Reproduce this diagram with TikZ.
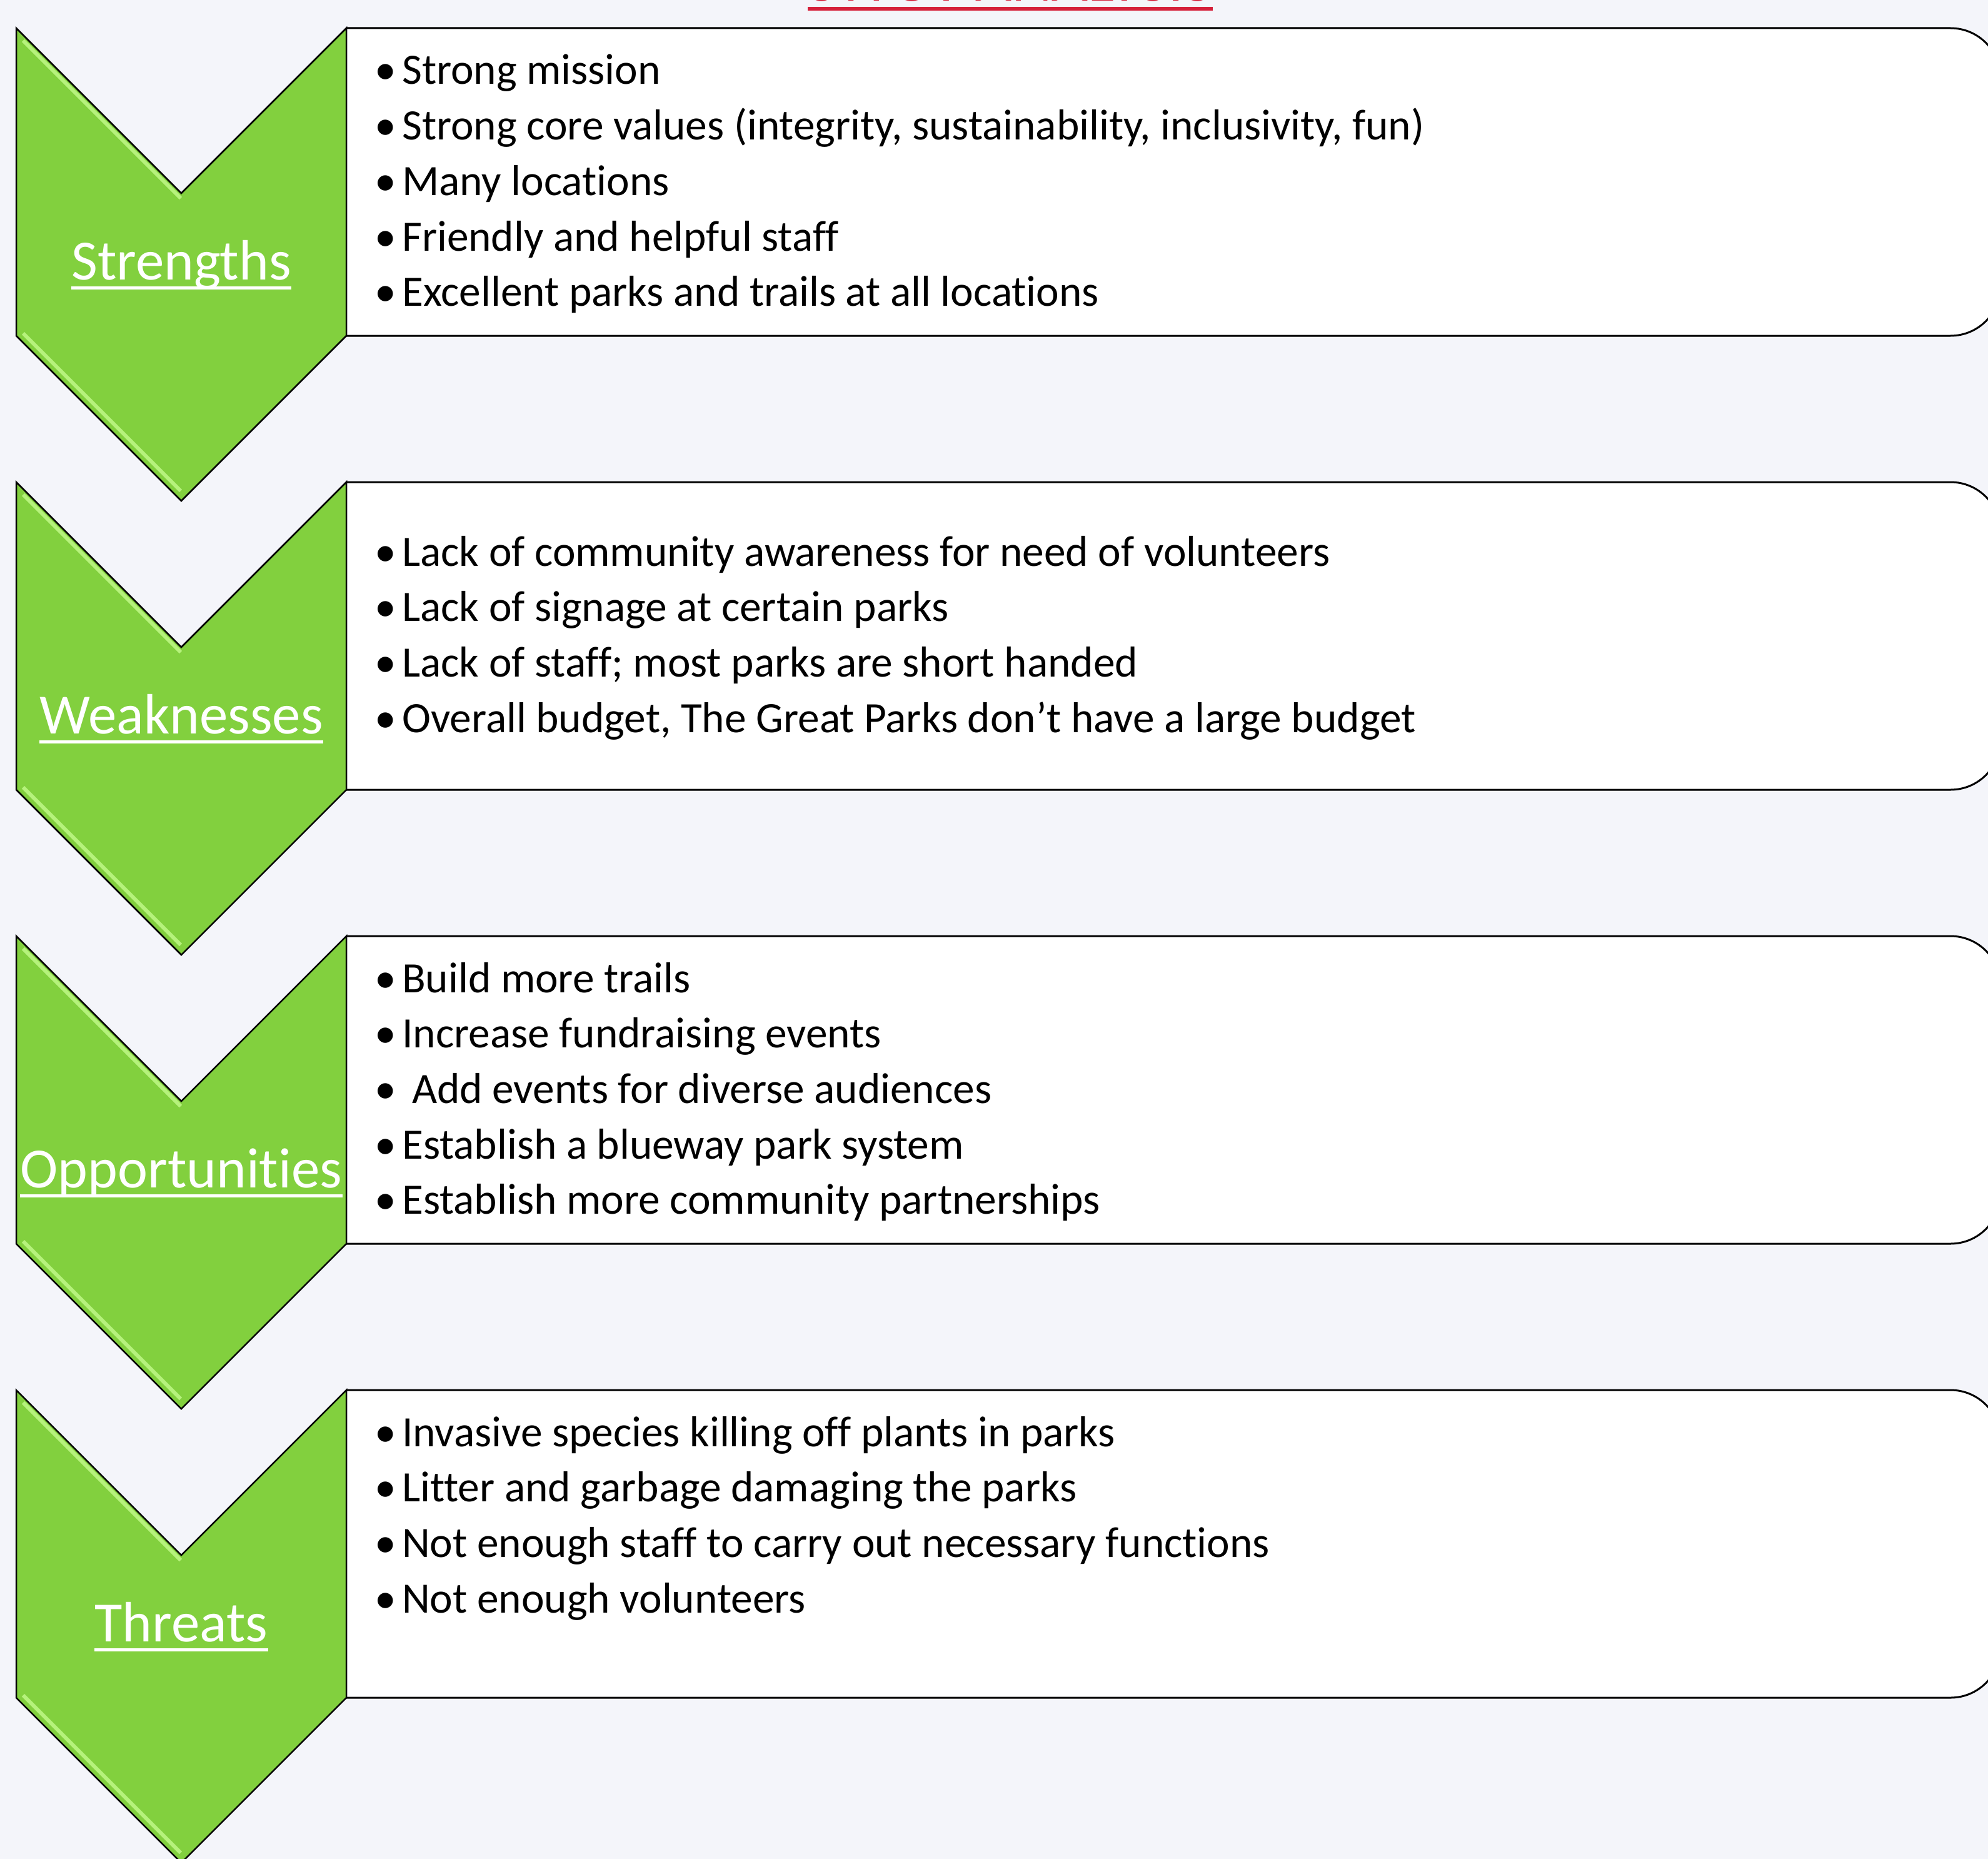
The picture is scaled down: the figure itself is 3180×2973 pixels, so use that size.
\documentclass[tikz,border=0pt]{standalone}
\usepackage{fontspec}
\setmainfont{Carlito}[Ligatures=NoCommon]
\usetikzlibrary{calc}
\definecolor{bgc}{HTML}{F4F5FA}
\definecolor{chevgreen}{HTML}{82D03E}
\definecolor{chevlight}{HTML}{B6F27C}
\definecolor{titlered}{HTML}{D5203A}
\begin{document}
\begin{tikzpicture}[x=1pt,y=-1pt,
  chev/.style={fill=chevgreen,draw=black,line width=2.5pt,line join=miter},
  hilite/.style={draw=chevlight,line width=6pt},
  boxst/.style={fill=white,draw=black,line width=3pt},
  lab/.style={anchor=base,inner sep=0pt,text=white,font=\fontsize{91}{109}\selectfont},
  ul/.style={draw=white,line width=5pt},
  bul/.style={anchor=base west,inner sep=0pt,font=\fontsize{69.3}{83}\selectfont},
  item/.style={anchor=base west,inner sep=0pt,font=\fontsize{69.3}{83}\selectfont}]
\useasboundingbox (0,0) rectangle (3180,2973);
\clip (0,0) rectangle (3180,2973);
\fill[bgc] (0,0) rectangle (3180,2973);

% title (mostly above the visible area)
\node[anchor=base,inner sep=0pt,text=titlered,font=\fontsize{100}{120}\selectfont] (title) at (1616,2) {SWOT ANALYSIS};
\draw[draw=titlered,line width=6pt] ($(title.base west)+(0,12)$) -- ($(title.base east)+(0,12)$);

% rows
\foreach \t/\lab/\nm in {45/Strengths/S,771/Weaknesses/W,1497/Opportunities/O,2223/Threats/T}{
  \filldraw[boxst,rounded corners=80pt] (554,\t) -- (3200,\t) -- (3200,{\t+492}) -- (554,{\t+492});
  \path[chev] (26,\t) -- (290,{\t+264}) -- (554,\t) -- (554,{\t+492}) -- (290,{\t+756}) -- (26,{\t+492}) -- cycle;
  \draw[hilite] (37,{\t+20}) -- (289,{\t+272});
  \draw[hilite] (37,{\t+488}) -- (289,{\t+740});
  \node[lab] (lab\nm) at (290,{\t+402}) {\lab};
  \draw[ul] ($(lab\nm.base west)+(0,13)$) -- ($(lab\nm.base east)+(0,13)$);
}

% items
\foreach \txt/\dx [count=\i] in {Strong mission/0,{Strong core values (integrity, sustainability, inclusivity, fun)}/0,Many locations/0,Friendly and helpful staff/0,Excellent parks and trails at all locations/0}{
  \node[bul] (Sb\i) at (599,{135+(\i-1)*88.7}) {•};
  \node[item] (St\i) at ({643+\dx},{135+(\i-1)*88.7}) {\txt};
}
\foreach \txt/\dx [count=\i] in {Lack of community awareness for need of volunteers/0,Lack of signage at certain parks/0,Lack of staff; most parks are short handed/0,{Overall budget, The Great Parks don’t have a large budget}/0}{
  \node[bul] (Wb\i) at (599,{905+(\i-1)*88.7}) {•};
  \node[item] (Wt\i) at ({643+\dx},{905+(\i-1)*88.7}) {\txt};
}
\foreach \txt/\dx [count=\i] in {Build more trails/0,Increase fundraising events/0,Add events for diverse audiences/16,Establish a blueway park system/0,Establish more community partnerships/0}{
  \node[bul] (Ob\i) at (599,{1587+(\i-1)*88.7}) {•};
  \node[item] (Ot\i) at ({643+\dx},{1587+(\i-1)*88.7}) {\txt};
}
\foreach \txt/\dx [count=\i] in {Invasive species killing off plants in parks/0,Litter and garbage damaging the parks/0,Not enough staff to carry out necessary functions/0,Not enough volunteers/0}{
  \node[bul] (Tb\i) at (599,{2313+(\i-1)*88.7}) {•};
  \node[item] (Tt\i) at ({643+\dx},{2313+(\i-1)*88.7}) {\txt};
}
\end{tikzpicture}
\end{document}
